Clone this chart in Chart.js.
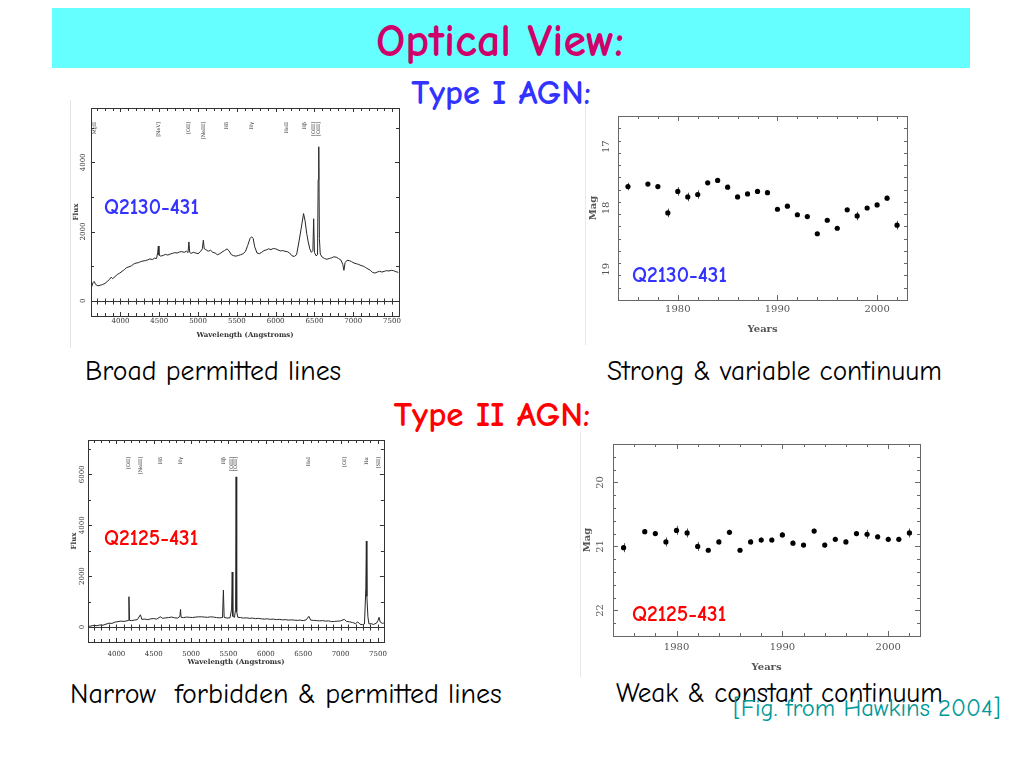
<!DOCTYPE html>
<html><head><meta charset="utf-8">
<script src="https://cdn.jsdelivr.net/npm/chart.js@4.4.1/dist/chart.umd.min.js"></script>
<style>
body{margin:0;background:#fff;}
#slide{position:relative;width:1020px;height:765px;overflow:hidden;background:#fff;font-family:"Comic Sans MS","Comic Neue","DejaVu Sans",sans-serif;}
.t{position:absolute;white-space:nowrap;line-height:1;}
.panel{position:absolute;background:#fff;}
canvas{display:block;}
</style></head><body>
<div id="slide">
  <div style="position:absolute;left:52px;top:8px;width:918px;height:60px;background:#66ffff"></div>
  <div class="t" style="left:0;width:1000px;text-align:center;top:19px;font-size:46px;font-weight:bold;color:#d0006a">Optical View:</div>
  <div class="t" style="left:0;width:1002px;text-align:center;top:76px;font-size:34.5px;font-weight:bold;color:#3333ff">Type I AGN:</div>
  <div class="t" style="left:0;width:984px;text-align:center;top:397px;font-size:35px;font-weight:bold;color:#ff0000">Type II AGN:</div>

  <div class="panel" style="left:70px;top:100px;width:332px;height:248px;border-left:1px solid #e4e4e4;"><canvas id="spec1" width="332" height="248"></canvas></div>
  <div class="panel" style="left:585px;top:105px;width:330px;height:240px;border-left:1px solid #e8e8e8;"><canvas id="lc1" width="330" height="240"></canvas></div>
  <div class="panel" style="left:70px;top:435px;width:325px;height:240px;"><canvas id="spec2" width="325" height="240"></canvas></div>
  <div class="panel" style="left:580px;top:432px;width:345px;height:245px;border-left:1px solid #e8e8e8;"><canvas id="lc2" width="345" height="245"></canvas></div>

  <div class="t" style="left:104px;top:197px;font-size:21.5px;font-weight:bold;color:#3333ff">Q2130-431</div>
  <div class="t" style="left:632px;top:265px;font-size:21.5px;font-weight:bold;color:#3333ff">Q2130-431</div>
  <div class="t" style="left:104px;top:528px;font-size:21.5px;font-weight:bold;color:#ff0000">Q2125-431</div>
  <div class="t" style="left:632px;top:604px;font-size:21.5px;font-weight:bold;color:#ff0000">Q2125-431</div>

  <div class="t" style="left:85px;top:358px;font-size:27.8px;color:#000">Broad permitted lines</div>
  <div class="t" style="left:607px;top:358px;font-size:27.3px;color:#000">Strong &amp; variable continuum</div>
  <div class="t" style="left:70px;top:680px;font-size:28px;color:#000">Narrow&nbsp; forbidden &amp; permitted lines</div>
  <div class="t" style="left:616px;top:680px;font-size:27.2px;color:#000">Weak &amp; constant continuum</div>
  <div class="t" style="left:733px;top:696px;font-size:24.6px;color:#009999">[Fig. from Hawkins 2004]</div>
</div>
<script>
// ---------- DATA ----------
const spec1Wave = [3625,3645,3660,3680,3710,3740,3770,3800,3830,3860,3880,3900,3930,3960,3990,4020,4050,4080,4110,4140,4170,4200,4230,4260,4290,4320,4350,4380,4410,4440,4465,4480,4488,4496,4520,4550,4580,4610,4640,4670,4700,4730,4760,4790,4820,4850,4870,4882,4892,4910,4940,4970,5000,5030,5055,5068,5080,5100,5130,5160,5190,5220,5250,5280,5310,5340,5373,5400,5430,5460,5490,5520,5550,5580,5610,5640,5670,5690,5710,5730,5760,5790,5820,5850,5880,5910,5940,5970,6000,6030,6060,6090,6120,6150,6180,6210,6240,6270,6300,6330,6360,6380,6400,6420,6440,6460,6480,6490,6500,6520,6540,6548,6556,6564,6575,6600,6630,6660,6690,6720,6750,6780,6810,6840,6865,6880,6895,6920,6950,6980,7010,7040,7070,7100,7130,7160,7190,7220,7250,7280,7310,7340,7370,7400,7430,7460,7490,7520,7550,7580];
const spec1Flux = [380,520,560,470,430,450,470,500,560,620,680,640,700,760,800,850,900,960,980,1010,1060,1090,1100,1130,1150,1160,1180,1210,1190,1230,1220,1400,1580,1320,1290,1310,1340,1320,1350,1370,1390,1380,1410,1420,1400,1430,1390,1700,1400,1370,1400,1380,1360,1420,1500,1750,1500,1480,1430,1460,1400,1380,1330,1360,1410,1450,1500,1440,1330,1300,1290,1310,1330,1360,1420,1600,1800,1850,1800,1560,1380,1360,1400,1450,1470,1500,1480,1510,1500,1470,1440,1450,1430,1420,1380,1300,1280,1330,1700,2100,2520,2300,1950,1700,1500,1400,1450,2370,1400,1300,1330,3500,4450,1800,1350,1260,1220,1200,1220,1240,1270,1260,1220,1180,1050,880,1100,1170,1160,1130,1090,1070,1050,1020,1000,960,920,880,820,800,830,850,830,850,870,860,880,870,840,820];
const spec1LineNames = ['MgII','[NeV]','[OII]','[NeIII]','H\u03b4','H\u03b3','HeII','H\u03b2','[OIII]','[OIII]'];
const spec1LineWave = [3665,4488,4882,5068,5373,5686,6139,6370,6497,6560];
const spec1XTicks = [4000,4500,5000,5500,6000,6500,7000,7500];
const spec1YTicks = [0,2000,4000];

const spec2Wave = [3625,3660,3700,3740,3780,3820,3860,3900,3940,3980,4020,4060,4100,4140,4160,4168,4176,4200,4240,4280,4322,4340,4380,4420,4460,4500,4540,4587,4620,4660,4700,4740,4780,4820,4850,4858,4866,4900,4940,4980,5020,5060,5100,5140,5180,5220,5260,5300,5340,5380,5420,5432,5442,5480,5520,5542,5550,5558,5580,5595,5602,5610,5625,5660,5700,5740,5780,5820,5860,5900,5940,5980,6020,6060,6100,6140,6180,6220,6260,6300,6340,6380,6420,6460,6500,6540,6575,6600,6640,6680,6720,6760,6800,6840,6880,6920,6960,7000,7050,7080,7120,7160,7200,7230,7260,7290,7320,7338,7345,7352,7366,7380,7410,7440,7480,7500,7515,7530,7560,7580];
const spec2Flux = [20,40,60,50,80,70,110,150,140,190,210,230,220,240,260,1190,260,250,270,290,480,300,310,290,320,330,310,400,340,360,370,390,360,350,420,690,380,370,390,380,370,390,400,400,390,380,400,390,370,360,370,1450,380,350,360,700,2160,420,380,700,5900,600,380,370,350,360,340,350,330,340,320,310,320,300,310,290,300,280,290,270,280,270,260,270,250,280,420,270,260,250,240,250,230,240,210,220,230,240,300,220,200,180,130,200,110,90,120,1500,3380,1200,400,120,130,100,150,250,380,200,140,160];
const spec2LineNames = ['[OII]','[NeIII]','H\u03b4','H\u03b3','H\u03b2','[OIII]','[OIII]','HeI','[OI]','H\u03b1','[SII]'];
const spec2LineWave = [4170,4329,4590,4856,5440,5549,5602,6575,7050,7344,7515];
const spec2XTicks = [4000,4500,5000,5500,6000,6500,7000,7500];
const spec2YTicks = [0,2000,4000,6000];

const lc1Years = [1975,1977,1978,1979,1980,1981,1982,1983,1984,1985,1986,1987,1988,1989,1990,1991,1992,1993,1994,1995,1996,1997,1998,1999,2000,2001,2002];
const lc1Mag   = [17.65,17.61,17.65,18.08,17.73,17.82,17.78,17.59,17.55,17.66,17.82,17.77,17.73,17.75,18.02,17.97,18.11,18.14,18.42,18.20,18.33,18.03,18.13,18.00,17.95,17.84,18.28];
const lc1Err   = [0.06,0.03,0.03,0.07,0.07,0.07,0.07,0.03,0.03,0.04,0.03,0.03,0.03,0.03,0.03,0.03,0.03,0.03,0.03,0.03,0.03,0.03,0.07,0.03,0.03,0.04,0.07];
const lc2Years = [1975,1977,1978,1979,1980,1981,1982,1983,1984,1985,1986,1987,1988,1989,1990,1991,1992,1993,1994,1995,1996,1997,1998,1999,2000,2001,2002];
const lc2Mag   = [21.02,20.77,20.80,20.93,20.75,20.79,21.00,21.06,20.93,20.78,21.06,20.93,20.90,20.90,20.82,20.95,20.98,20.76,20.98,20.89,20.93,20.80,20.81,20.85,20.89,20.89,20.79];
const lc2Err   = [0.07,0.04,0.03,0.07,0.07,0.07,0.07,0.03,0.04,0.04,0.03,0.04,0.04,0.04,0.04,0.04,0.03,0.04,0.04,0.04,0.04,0.04,0.07,0.04,0.04,0.04,0.07];
const lcXTicks = [1980,1990,2000];
const lc1YTicks = [17,18,19];
const lc2YTicks = [20,21,22];

// ---------- PLUGINS ----------
function framePlugin(id, o) {
  return { id: id, afterDatasetsDraw(chart) {
    const ctx = chart.ctx, a = chart.chartArea, x = chart.scales.x, y = chart.scales.y;
    ctx.save();
    ctx.strokeStyle = o.color; ctx.lineWidth = 1;
    ctx.strokeRect(Math.round(a.left)+0.5, Math.round(a.top)+0.5, Math.round(a.right-a.left), Math.round(a.bottom-a.top));
    ctx.beginPath();
    const nx = Math.round((o.xEnd - o.xStart) / o.xStep);
    for (let i = 0; i <= nx; i++) {
      const v = o.xStart + i * o.xStep;
      if (v < x.min || v > x.max) continue;
      const p = Math.round(x.getPixelForValue(v)) + 0.5;
      const len = (Math.abs(v % o.xMajor) < 1e-6) ? o.maj : o.min;
      ctx.moveTo(p, a.bottom); ctx.lineTo(p, a.bottom - len);
      ctx.moveTo(p, a.top); ctx.lineTo(p, a.top + len);
      if (o.zero) {
        const z = Math.round(y.getPixelForValue(0)) + 0.5;
        ctx.moveTo(p, z - o.min); ctx.lineTo(p, z + o.min);
      }
    }
    const ny = Math.round((o.yEnd - o.yStart) / o.yStep);
    for (let i = 0; i <= ny; i++) {
      const v = +(o.yStart + i * o.yStep).toFixed(4);
      const p = Math.round(y.getPixelForValue(v)) + 0.5;
      const isMaj = Math.abs(v / o.yMajor - Math.round(v / o.yMajor)) < 1e-6;
      const len = isMaj ? o.maj : o.min;
      ctx.moveTo(a.left, p); ctx.lineTo(a.left + len, p);
      ctx.moveTo(a.right, p); ctx.lineTo(a.right - len, p);
    }
    if (o.zero) {
      const z = Math.round(y.getPixelForValue(0)) + 0.5;
      ctx.moveTo(a.left, z); ctx.lineTo(a.right, z);
    }
    ctx.stroke();
    ctx.restore();
  }};
}
function lineLabelPlugin(id, names, waves, offset) {
  return { id: id, afterDatasetsDraw(chart) {
    const ctx = chart.ctx, a = chart.chartArea, x = chart.scales.x;
    ctx.save();
    ctx.fillStyle = '#333';
    ctx.font = '5px "DejaVu Serif"';
    ctx.textAlign = 'right'; ctx.textBaseline = 'middle';
    names.forEach((n, i) => {
      const p = x.getPixelForValue(waves[i]);
      ctx.save(); ctx.translate(p, a.top + offset); ctx.rotate(-Math.PI/2);
      ctx.fillText(n, 0, 0); ctx.restore();
    });
    ctx.restore();
  }};
}
function errPlugin(id, years, mags, errs) {
  return { id: id, beforeDatasetsDraw(chart) {
    const ctx = chart.ctx, x = chart.scales.x, y = chart.scales.y;
    ctx.save(); ctx.strokeStyle = '#555'; ctx.lineWidth = 1; ctx.beginPath();
    years.forEach((yr, i) => {
      const px = Math.round(x.getPixelForValue(yr)) + 0.5;
      ctx.moveTo(px, y.getPixelForValue(mags[i] - errs[i]));
      ctx.lineTo(px, y.getPixelForValue(mags[i] + errs[i]));
    });
    ctx.stroke(); ctx.restore();
  }};
}

// ---------- CHART BUILDERS ----------
function makeSpec(cid, wave, flux, xTicks, yTicks, names, lwaves, L) {
  return new Chart(document.getElementById(cid), {
    type: 'line',
    data: { datasets: [{ data: wave.map((w, i) => ({ x: w, y: flux[i] })), borderColor: '#262626', borderWidth: 1, pointRadius: 0, tension: 0, fill: false }] },
    options: {
      responsive: false, animation: false, events: [],
      layout: { padding: { top: L.top, right: L.right, left: 0, bottom: 0 } },
      plugins: { legend: { display: false }, tooltip: { enabled: false } },
      scales: {
        x: { type: 'linear', min: L.xmin, max: L.xmax,
             afterBuildTicks: s => { s.ticks = xTicks.map(v => ({ value: v })); },
             afterFit: s => { s.height = L.xh; },
             grid: { display: false, drawTicks: false }, border: { display: false },
             ticks: { font: { family: 'DejaVu Serif', size: 7 }, color: '#333', padding: L.xpad, maxRotation: 0, autoSkip: false, callback: v => String(v) },
             title: { display: true, text: 'Wavelength (Angstroms)', font: { family: 'DejaVu Serif', size: 7, weight: 'bold' }, color: '#333', padding: { top: 0, bottom: L.xtpad } } },
        y: { type: 'linear', min: L.ymin, max: L.ymax,
             afterBuildTicks: s => { s.ticks = yTicks.map(v => ({ value: v })); },
             afterFit: s => { s.width = L.yw; },
             grid: { display: false, drawTicks: false }, border: { display: false },
             ticks: { font: { family: 'DejaVu Serif', size: 7 }, color: '#333', padding: L.ypad, minRotation: 90, maxRotation: 90, crossAlign: 'center', autoSkip: false, callback: v => String(v) },
             title: { display: true, text: 'Flux', font: { family: 'DejaVu Serif', size: 7, weight: 'bold' }, color: '#333', padding: { top: L.ytpad, bottom: 0 } } }
      }
    },
    plugins: [
      framePlugin(cid + 'f', { color: '#333', xStart: 3600, xEnd: 7600, xStep: 100, xMajor: 500, yStart: L.ymin0, yEnd: L.ymax0, yStep: 1000, yMajor: 2000, maj: 4, min: 3, zero: true }),
      lineLabelPlugin(cid + 'l', names, lwaves, L.lblOff)
    ]
  });
}
function makeLC(cid, years, mags, errs, yTicks, L) {
  return new Chart(document.getElementById(cid), {
    type: 'scatter',
    data: { datasets: [{ data: years.map((yr, i) => ({ x: yr, y: mags[i] })), pointRadius: 2.6, pointBackgroundColor: '#000', pointBorderWidth: 0, showLine: false }] },
    options: {
      responsive: false, animation: false, events: [],
      layout: { padding: { top: L.top, right: L.right, left: 0, bottom: 0 } },
      plugins: { legend: { display: false }, tooltip: { enabled: false } },
      scales: {
        x: { type: 'linear', min: 1974, max: 2003,
             afterBuildTicks: s => { s.ticks = lcXTicks.map(v => ({ value: v })); },
             afterFit: s => { s.height = L.xh; },
             grid: { display: false, drawTicks: false }, border: { display: false },
             ticks: { font: { family: 'DejaVu Serif', size: 10 }, color: '#555', padding: L.xpad, maxRotation: 0, autoSkip: false, callback: v => String(v) },
             title: { display: true, text: 'Years', font: { family: 'DejaVu Serif', size: 10, weight: 'bold' }, color: '#555', padding: { top: 0, bottom: L.xtpad } } },
        y: { type: 'linear', reverse: true, min: L.ymin, max: L.ymax,
             afterBuildTicks: s => { s.ticks = yTicks.map(v => ({ value: v })); },
             afterFit: s => { s.width = L.yw; },
             grid: { display: false, drawTicks: false }, border: { display: false },
             ticks: { font: { family: 'DejaVu Serif', size: 10 }, color: '#555', padding: L.ypad, minRotation: 90, maxRotation: 90, crossAlign: 'center', autoSkip: false, callback: v => String(v) },
             title: { display: true, text: 'Mag', font: { family: 'DejaVu Serif', size: 10, weight: 'bold' }, color: '#555', padding: { top: L.ytpad, bottom: 0 } } }
      }
    },
    plugins: [
      errPlugin(cid + 'e', years, mags, errs),
      framePlugin(cid + 'f', { color: '#666', xStart: 1974, xEnd: 2003, xStep: 2, xMajor: 10, yStart: L.ymin, yEnd: L.ymax, yStep: 0.2, yMajor: 1, maj: 5, min: 3, zero: false })
    ]
  });
}

makeSpec('spec1', spec1Wave, spec1Flux, spec1XTicks, spec1YTicks, spec1LineNames, spec1LineWave,
  { top: 8, right: 4, xh: 32, yw: 20, xmin: 3620, xmax: 7590, ymin: -440, ymax: 5570, ymin0: 0, ymax0: 5000, xpad: 1, xtpad: 9, ypad: -1, ytpad: 1, lblOff: 14 });
makeSpec('spec2', spec2Wave, spec2Flux, spec2XTicks, spec2YTicks, spec2LineNames, spec2LineWave,
  { top: 5, right: 8, xh: 33, yw: 18, xmin: 3620, xmax: 7580, ymin: -590, ymax: 7350, ymin0: 0, ymax0: 7000, xpad: 8, xtpad: 9, ypad: -3, ytpad: 0, lblOff: 17 });
makeLC('lc1', lc1Years, lc1Mag, lc1Err, lc1YTicks,
  { top: 8, right: 9, xh: 45, yw: 32, ymin: 16.5, ymax: 19.5, xpad: 3, xtpad: 10, ypad: 5, ytpad: 1 });
makeLC('lc2', lc2Years, lc2Mag, lc2Err, lc2YTicks,
  { top: 5, right: 6, xh: 41, yw: 32, ymin: 19.4, ymax: 22.4, xpad: 5, xtpad: 4, ypad: 6, ytpad: 0 });
</script>
</body></html>
